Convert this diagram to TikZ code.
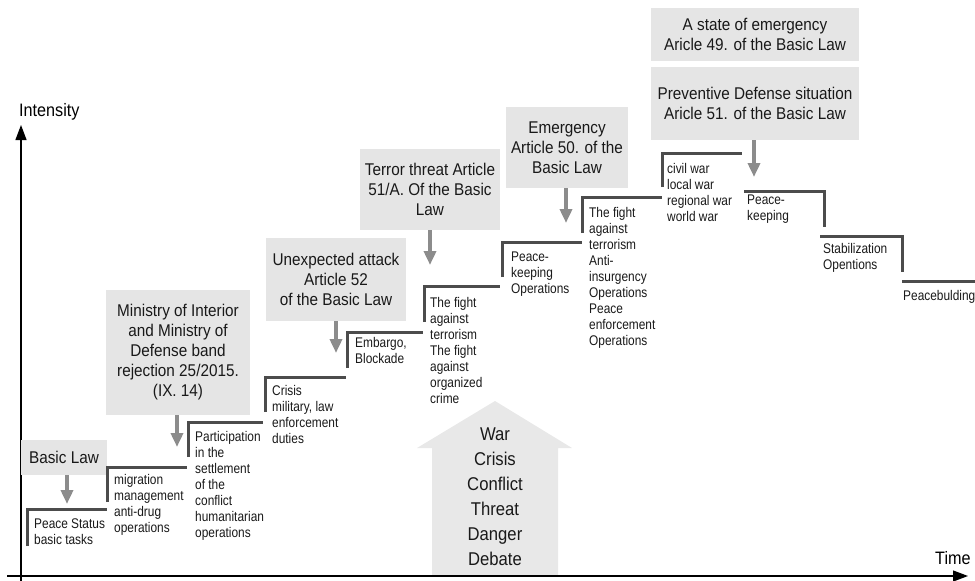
\documentclass[tikz,border=0pt]{standalone}
\usepackage{fontspec}
\setmainfont{Liberation Sans}[FakeStretch=0.9]
\newfontfamily\stepfont{Liberation Sans}[FakeStretch=0.85]
\usetikzlibrary{arrows.meta}

\begin{document}
\begin{tikzpicture}[x=1pt, y=-1pt,
    lawbox/.style={fill=black!10, inner sep=0pt, align=center, text=black!90, font=\fontsize{17}{20}\selectfont},
    steptext/.style={anchor=north west, inner sep=0pt, align=left, text=black!90, font=\stepfont\fontsize{14}{16}\selectfont},
    stepline/.style={black!70, line width=3pt},
    downarrow/.style={black!45, line width=4pt, -{Triangle[width=12pt,length=14pt]}},
    axis/.style={black, line width=1.2pt, -{Triangle[width=11pt,length=15pt]}}]
        \useasboundingbox (0,0) rectangle (975,581);

        \fill [black!9] (495,401) -- (572,448) -- (558,448) -- (558,575) -- (432,575) -- (432,448) -- (417,448) -- cycle;
        \node [align=center, inner sep=0pt, text=black!90, font=\fontsize{18.5}{25}\selectfont] (levels) at (495,497) {War\\Crisis\\Conflict\\Threat\\Danger\\Debate};

        \coordinate (ybot) at (21,581);
        \coordinate (ytop) at (21,125);
        \coordinate (xleft) at (7,576);
        \coordinate (xright) at (968,576);
        \draw [axis] (ybot) -- (ytop);
        \draw [axis] (xleft) -- (xright);
        \node [anchor=north west, inner sep=0pt, font=\fontsize{18}{20}\selectfont] (intensity) at (19,103) {Intensity};
        \node [anchor=north west, inner sep=0pt, font=\fontsize{18}{20}\selectfont] (time) at (935,551) {Time};

        \node [lawbox, minimum width=86pt, minimum height=35pt] (basic) at (64,457.5) {Basic Law};
        \node [lawbox, minimum width=144pt, minimum height=125pt] (interior) at (178,352.5) {Ministry of Interior\\and Ministry of\\Defense band\\rejection 25/2015.\\(IX. 14)};
        \node [lawbox, minimum width=140pt, minimum height=83pt] (attack) at (336,279.5) {Unexpected attack\\Article 52\\of the Basic Law};
        \node [lawbox, minimum width=140pt, minimum height=81pt] (terror) at (430,189.5) {Terror threat Article\\51/A. Of the Basic\\Law};
        \node [lawbox, minimum width=122pt, minimum height=81pt] (emergency) at (567,147.5) {Emergency\\Article 50. of the\\Basic Law};
        \node [lawbox, minimum width=208pt, minimum height=53pt] (stateem) at (755,34.5) {A state of emergency\\Aricle 49. of the Basic Law};
        \node [lawbox, minimum width=208pt, minimum height=73pt] (preventive) at (755,103.5) {Preventive Defense situation\\Aricle 51. of the Basic Law};

        \coordinate (t1) at (67,504);
        \coordinate (t2) at (177,447);
        \coordinate (t3) at (336,353);
        \coordinate (t4) at (430,265);
        \coordinate (t5) at (566,223);
        \coordinate (t6) at (754,177);
        \draw [downarrow] (basic.south -| t1) -- (t1);
        \draw [downarrow] (interior.south -| t2) -- (t2);
        \draw [downarrow] (attack.south -| t3) -- (t3);
        \draw [downarrow] (terror.south -| t4) -- (t4);
        \draw [downarrow] (emergency.south -| t5) -- (t5);
        \draw [downarrow] (preventive.south -| t6) -- (t6);

        % the steps
        \draw [stepline] (27,546) -- (27,509) -- (107,509);
        \draw [stepline] (107,502) -- (107,467) -- (187,467);
        \draw [stepline] (188,457) -- (188,422) -- (263,422);
        \draw [stepline] (265,412) -- (265,377) -- (346,377);
        \draw [stepline] (347,368) -- (347,332) -- (423,332);
        \draw [stepline] (424,322) -- (424,286) -- (500,286);
        \draw [stepline] (502,277) -- (502,242) -- (582,242);
        \draw [stepline] (582,233) -- (582,197) -- (662,197);
        \draw [stepline] (662,187) -- (662,153) -- (742,153);
        \draw [stepline] (744,191) -- (824,191) -- (824,227);
        \draw [stepline] (820,236) -- (902,236) -- (902,272);
        \draw [stepline] (902,281) -- (975,281);

        \node [steptext] (peace) at (34,519) {Peace Status\\basic tasks};
        \node [steptext] (migration) at (114,474) {migration\\management\\anti-drug\\operations};
        \node [steptext] (settlement) at (195,431) {Participation\\in the\\settlement\\of the\\conflict\\humanitarian\\operations};
        \node [steptext] (crisis) at (272,385) {Crisis\\military, law\\enforcement\\duties};
        \node [steptext] (embargo) at (355,337) {Embargo,\\Blockade};
        \node [steptext] (fight) at (430,297) {The fight\\against\\terrorism\\The fight\\against\\organized\\crime};
        \node [steptext] (keeping) at (511,252) {Peace-\\keeping\\Operations};
        \node [steptext] (insurgency) at (589,207) {The fight\\against\\terrorism\\Anti-\\insurgency\\Operations\\Peace\\enforcement\\Operations};
        \node [steptext] (wars) at (667,163) {civil war\\local war\\regional war\\world war};
        \node [steptext] (keeping2) at (747,195) {Peace-\\keeping};
        \node [steptext] (stabilization) at (823,243) {Stabilization\\Opentions};
        \node [steptext] (building) at (903,290) {Peacebulding};
\end{tikzpicture}
\end{document}
